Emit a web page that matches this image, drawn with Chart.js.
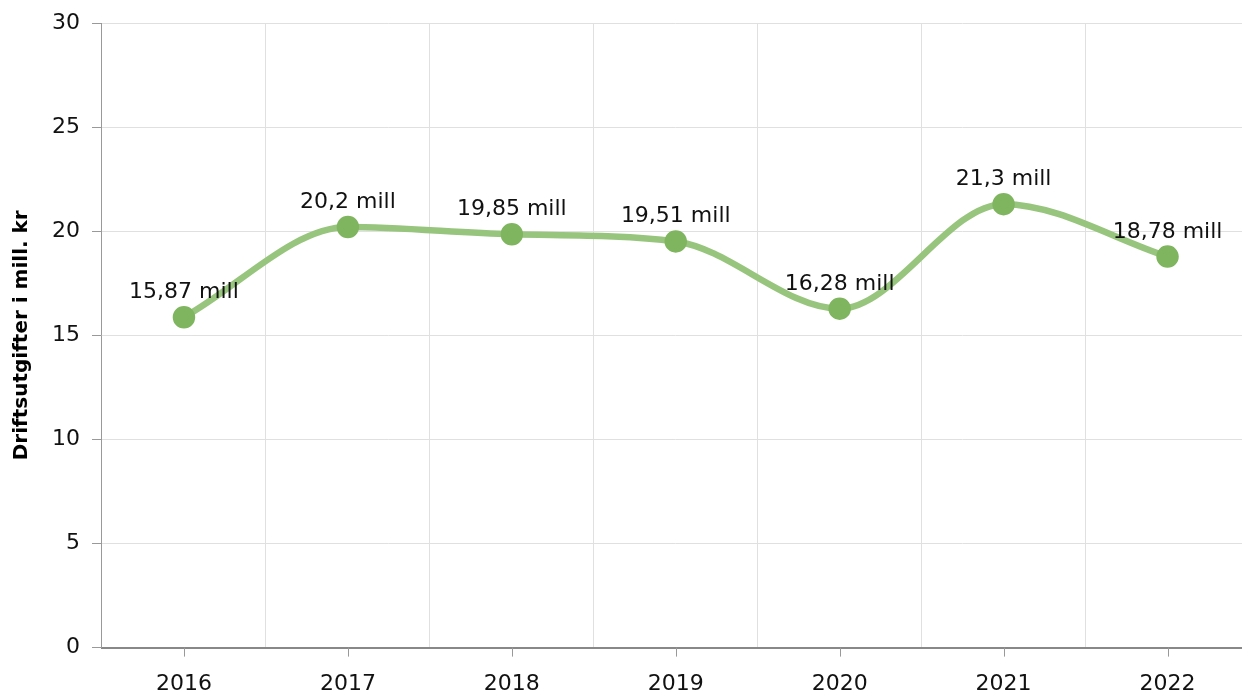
<!DOCTYPE html>
<html><head><meta charset="utf-8">
<script src="https://cdn.jsdelivr.net/npm/chart.js@4/dist/chart.umd.min.js"></script>
<style>html,body{margin:0;padding:0;background:#fff;overflow:hidden}#wrap{width:1264px;height:695px}</style>
</head><body><div id="wrap"><canvas id="c"></canvas></div>
<script>
const categories = ['2016','2017','2018','2019','2020','2021','2022'];
const values = [15.87, 20.2, 19.85, 19.51, 16.28, 21.3, 18.78];
const valueLabels = ['15,87 mill','20,2 mill','19,85 mill','19,51 mill','16,28 mill','21,3 mill','18,78 mill'];
const yTitle = 'Driftsutgifter i mill. kr';
const FONT = "'DejaVu Sans', Verdana, sans-serif";

const labelPlugin = {
  id: 'labels',
  afterDatasetsDraw(chart) {
    const ctx = chart.ctx;
    const meta = chart.getDatasetMeta(0);
    ctx.save();
    ctx.font = '22px ' + FONT;
    ctx.fillStyle = '#111';
    ctx.textAlign = 'center';
    ctx.textBaseline = 'alphabetic';
    meta.data.forEach((pt, i) => {
      ctx.fillText(valueLabels[i], pt.x, pt.y - 19);
    });
    ctx.restore();
  },
  afterDraw(chart) {
    const x = chart.scales.x;
    const ctx = chart.ctx;
    ctx.save();
    ctx.strokeStyle = '#999';
    ctx.lineWidth = 1;
    categories.forEach((c, i) => {
      const px = Math.round(x.getPixelForTick(i)) + 0.5;
      ctx.beginPath();
      ctx.moveTo(px, x.top);
      ctx.lineTo(px, x.top + 9);
      ctx.stroke();
    });
    ctx.restore();
  }
};

new Chart(document.getElementById('c'), {
  type: 'line',
  data: {
    labels: categories,
    datasets: [{
      data: values,
      borderColor: '#98c57e',
      backgroundColor: '#7fb55f',
      pointBackgroundColor: '#7fb55f',
      pointBorderColor: '#7fb55f',
      pointRadius: 8,
      borderWidth: 6.5,
      cubicInterpolationMode: 'monotone'
    }]
  },
  options: {
    responsive: true,
    maintainAspectRatio: false,
    animation: false,
    layout: { padding: { top: 4, right: 0, left: 10, bottom: -25 } },
    plugins: { legend: { display: false }, tooltip: { enabled: false } },
    scales: {
      x: {
        offset: true,
        grid: { offset: true, color: '#e0e0e0', drawTicks: false },
        border: { color: '#888', width: 2 },
        ticks: { font: { family: FONT, size: 22 }, color: '#111', padding: 23 }
      },
      y: {
        min: 0, max: 30,
        ticks: { stepSize: 5, font: { family: FONT, size: 22, lineHeight: 1 }, color: '#111', padding: 12 },
        grid: { color: '#e0e0e0', tickColor: '#999', tickLength: 10 },
        border: { color: '#999', width: 1 },
        title: { display: true, text: yTitle, font: { family: FONT, size: 20, weight: 'bold' }, color: '#000', padding: { top: 0, bottom: 6 } }
      }
    }
  },
  plugins: [labelPlugin]
});
</script></body></html>
